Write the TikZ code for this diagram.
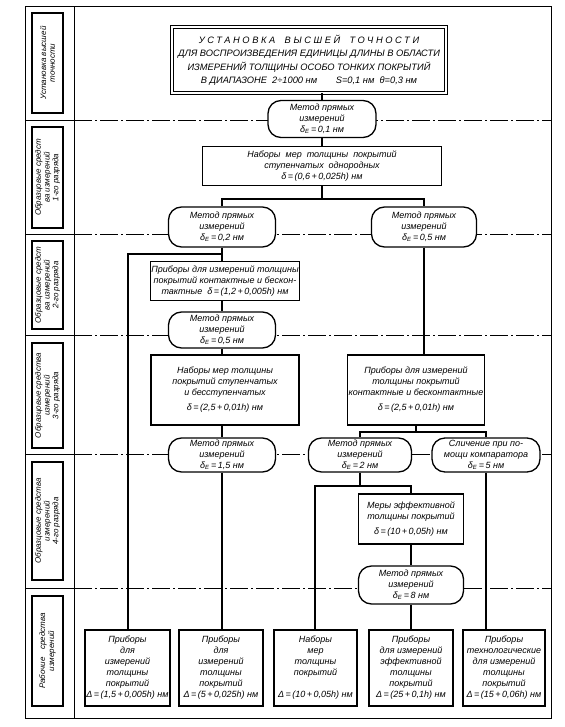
\documentclass[tikz,border=0pt]{standalone}
\usepackage{fontspec}
\setmainfont{Liberation Sans}
\newcommand\fnt{\fontsize{9}{11}\selectfont\itshape}
\newcommand\lfnt{\fontsize{8}{8.8}\selectfont\itshape}
\newcommand\dE{δ\textsubscript{E}}
\begin{document}
\begin{tikzpicture}[x=1pt,y=-1pt,
  box/.style={draw, line width=1.3pt, align=center, inner sep=1pt, font=\fnt, fill=white},
  oval/.style={box, rounded corners=13pt},
  lbl/.style={draw, line width=1.1pt, align=center, inner sep=1pt, font=\lfnt, rotate=90, minimum height=31},
  conn/.style={line width=1.3pt},
  dd/.style={line width=1pt, dash pattern=on 18pt off 3pt on 2pt off 3pt},
  frame/.style={line width=1pt}]
\useasboundingbox (0,0) rectangle (564,727);
% frame
\draw[frame] (25,7) rectangle (551,718);
\draw[frame] (74,7) -- (74,718);
\foreach \yy in {121,234,335,454,588}{
  \draw[frame] (25,\yy) -- (74,\yy);
  \draw[dd] (74,\yy) -- (551,\yy);
}
% left labels
\node[lbl, minimum width=100] (L1) at (47.5,63) {Установка высшей\\точности};
\node[lbl, minimum width=101] (L2) at (47.5,177.5) {Образцовые средст\\ва измерений\\1-го разряда};
\node[lbl, minimum width=88] (L3) at (47.5,285) {Образцовые средст\\ва измерений\\2-го разряда};
\node[lbl, minimum width=105] (L4) at (47.5,395.5) {Образцовые средства\\измерений\\3-го разряда};
\node[lbl, minimum width=118] (L5) at (47.5,521) {Образцовые средства\\измерений\\4-го разряда};
\node[lbl, minimum width=110] (L6) at (47.5,651) {Рабочие\quad средства\\измерений};
% main box
\node[box, double, double distance=1.8pt, line width=1pt, minimum width=274, minimum height=66,
  font=\fontsize{9.3}{13.5}\selectfont\itshape] (top) at (309,60)
 {{\addfontfeature{LetterSpace=28}УСТАНОВКА\quad ВЫСШЕЙ\quad ТОЧНОСТИ}\\
  ДЛЯ ВОСПРОИЗВЕДЕНИЯ ЕДИНИЦЫ ДЛИНЫ В ОБЛАСТИ\\
  ИЗМЕРЕНИЙ ТОЛЩИНЫ ОСОБО ТОНКИХ ПОКРЫТИЙ\\
  В ДИАПАЗОНЕ\ \ 2÷1000 нм\qquad S=0,1 нм\ \ θ=0,3 нм};
% level 1
\node[oval, minimum width=108, minimum height=37] (o1) at (322,119) {Метод прямых\\измерений\\\dE\,=\,0,1 нм};
\node[box, minimum width=239, minimum height=39] (b2) at (322,166) {Наборы\ \ мер\ \ толщины\ \ покрытий\\ступенчатых\ \ однородных\\δ\,=\,(0,6\,+\,0,025h) нм};
% level 2
\node[oval, minimum width=107, minimum height=40] (o2L) at (222,227) {Метод прямых\\измерений\\\dE\,=\,0,2 нм};
\node[oval, minimum width=105, minimum height=40] (o2R) at (424,227) {Метод прямых\\измерений\\\dE\,=\,0,5 нм};
\node[box, minimum width=148, minimum height=39] (b3) at (225,281) {Приборы для измерений толщины\\покрытий контактные и бескон-\\тактные\ \ δ\,=\,(1,2\,+\,0,005h) нм};
\node[oval, minimum width=107, minimum height=36] (o3) at (222,330) {Метод прямых\\измерений\\\dE\,=\,0,5 нм};
% level 3
\node[box, minimum width=148, minimum height=70] (b4L) at (225,390) {Наборы мер толщины\\покрытий ступенчатых\\и бесступенчатых\\[4pt]δ\,=\,(2,5\,+\,0,01h) нм};
\node[box, minimum width=127, minimum height=70] (b4R) at (416,390) {Приборы для измерений\\толщины покрытий\\контактные и бесконтактные\\[4pt]δ\,=\,(2,5\,+\,0,01h) нм};
\node[oval, minimum width=107, minimum height=34] (o5L) at (222,455) {Метод прямых\\измерений\\\dE\,=\,1,5 нм};
\node[oval, minimum width=103, minimum height=34] (o5M) at (360,455) {Метод прямых\\измерений\\\dE\,=\,2 нм};
\node[oval, minimum width=108, minimum height=34] (o5R) at (486,455) {Сличение при по-\\мощи компаратора\\\dE\,=\,5 нм};
% level 4
\node[box, minimum width=105, minimum height=50] (b6) at (411,519) {Меры эффективной\\толщины покрытий\\[4pt]δ\,=\,(10\,+\,0,05h) нм};
\node[oval, minimum width=105, minimum height=38] (o6) at (411,585) {Метод прямых\\измерений\\\dE\,=\,8 нм};
% working instruments
\node[box, minimum width=85, minimum height=76] (B1) at (127.5,668) {Приборы\\для\\измерений\\толщины\\покрытий\\Δ\,=\,(1,5\,+\,0,005h) нм};
\node[box, minimum width=84, minimum height=76] (B2) at (221,668) {Приборы\\для\\измерений\\толщины\\покрытий\\Δ\,=\,(5\,+\,0,025h) нм};
\node[box, minimum width=83, minimum height=76] (B3) at (315.5,668) {Наборы\\мер\\толщины\\покрытий\\[11pt]Δ\,=\,(10\,+\,0,05h) нм};
\node[box, minimum width=84, minimum height=76] (B4) at (411,668) {Приборы\\для измерений\\эффективной\\толщины\\покрытий\\Δ\,=\,(25\,+\,0,1h) нм};
\node[box, minimum width=82, minimum height=76] (B5) at (504,668) {Приборы\\технологические\\для измерений\\толщины\\покрытий\\Δ\,=\,(15\,+\,0,06h) нм};
% junctions
\coordinate (j1) at (322,199);
\coordinate (j2) at (222,254);
\coordinate (jL) at (128,254);
\coordinate (j3) at (416,432);
\coordinate (j4) at (360,486);
\coordinate (jM) at (315,486);
\coordinate (jR) at (411,486);
% connectors
\draw[conn] (o1.north |- top.south) -- (o1.north);
\draw[conn] (o1) -- (b2);
\draw[conn] (b2.south) -- (j1);
\draw[conn] (o2L.north) |- (j1) -| (o2R.north);
\draw[conn] (o2L.south) -- (o2L.south |- b3.north);
\draw[conn] (j2) -- (jL) -- (jL |- B1.north);
\draw[conn] (o3.north |- b3.south) -- (o3.north);
\draw[conn] (o3.south) -- (o3.south |- b4L.north);
\draw[conn] (o5L.north |- b4L.south) -- (o5L.north);
\draw[conn] (o5L.south) -- (o5L.south |- B2.north);
\draw[conn] (o2R.south) -- (o2R.south |- b4R.north);
\draw[conn] (b4R.south) -- (j3);
\draw[conn] (o5M.north) |- (j3) -| (o5R.north);
\draw[conn] (o5M.south) -- (j4);
\draw[conn] (jM |- B3.north) -- (jM) -- (jR) -- (b6.north);
\draw[conn] (b6) -- (o6);
\draw[conn] (o6) -- (B4);
\draw[conn] (o5R.south) -- (o5R.south |- B5.north);
\end{tikzpicture}
\end{document}
